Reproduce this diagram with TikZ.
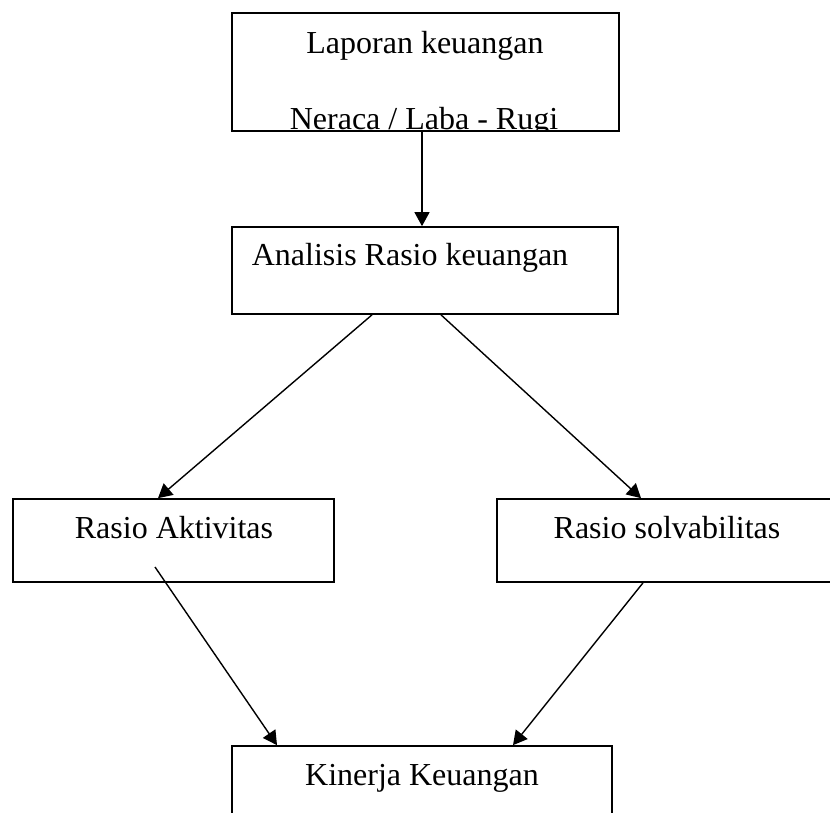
\documentclass[tikz,border=0pt]{standalone}
\usepackage{fontspec}
\setmainfont{Liberation Serif}
\usetikzlibrary{arrows.meta,positioning}

\tikzset{
  box/.style={draw, line width=1.7pt, rectangle, inner sep=0pt},
  txt/.style={anchor=base, inner sep=0pt},
  flow/.style={line width=1.4pt, -{Triangle[length=14pt,width=15pt]}}
}

\begin{document}
\begin{tikzpicture}[x=1pt, y=-1pt, font=\fontsize{32}{38}\selectfont]

  \path[use as bounding box, clip] (0,0) rectangle (830,812);

  \node[box, minimum width=387pt, minimum height=118pt] (lap) at (425.5,72) {};
  \begin{scope}
    \clip (lap.south west) rectangle (lap.north east);
    \node[txt] (lap1) at (425,53) {Laporan keuangan};
    \node[txt] (lap2) at (424,129) {Neraca / Laba - Rugi};
  \end{scope}

  \node[box, minimum width=386pt, minimum height=87pt] (ana) at (425,270.5) {};
    \node[txt] (ana1) at (410,265) {Analisis Rasio keuangan};

  \node[box, minimum width=321pt, minimum height=83pt] (akt) at (173.5,540.5) {};
    \node[txt] (akt1) at (174,538) {Rasio Aktivitas};

  \node[box, minimum width=348pt, minimum height=83pt] (sol) at (671,540.5) {};
    \node[txt] (sol1) at (667,538) {Rasio solvabilitas};

  \node[box, minimum width=380pt, minimum height=84pt] (kin) at (422,788) {};
    \node[txt] (kin1) at (422,785) {Kinerja Keuangan};

  \coordinate (aktfoot) at (155,567);

  \draw[flow] ([xshift=-3.5pt]lap.south) -- ([xshift=-3pt]ana.north);
  \draw[flow] ([xshift=-53pt]ana.south) -- ([xshift=-15.5pt]akt.north);
  \draw[flow] ([xshift=16pt]ana.south) -- ([xshift=-30pt]sol.north);
  \draw[flow] (aktfoot) -- ([xshift=-145pt]kin.north);
  \draw[flow] ([xshift=-28pt]sol.south) -- ([xshift=91pt]kin.north);

\end{tikzpicture}
\end{document}
